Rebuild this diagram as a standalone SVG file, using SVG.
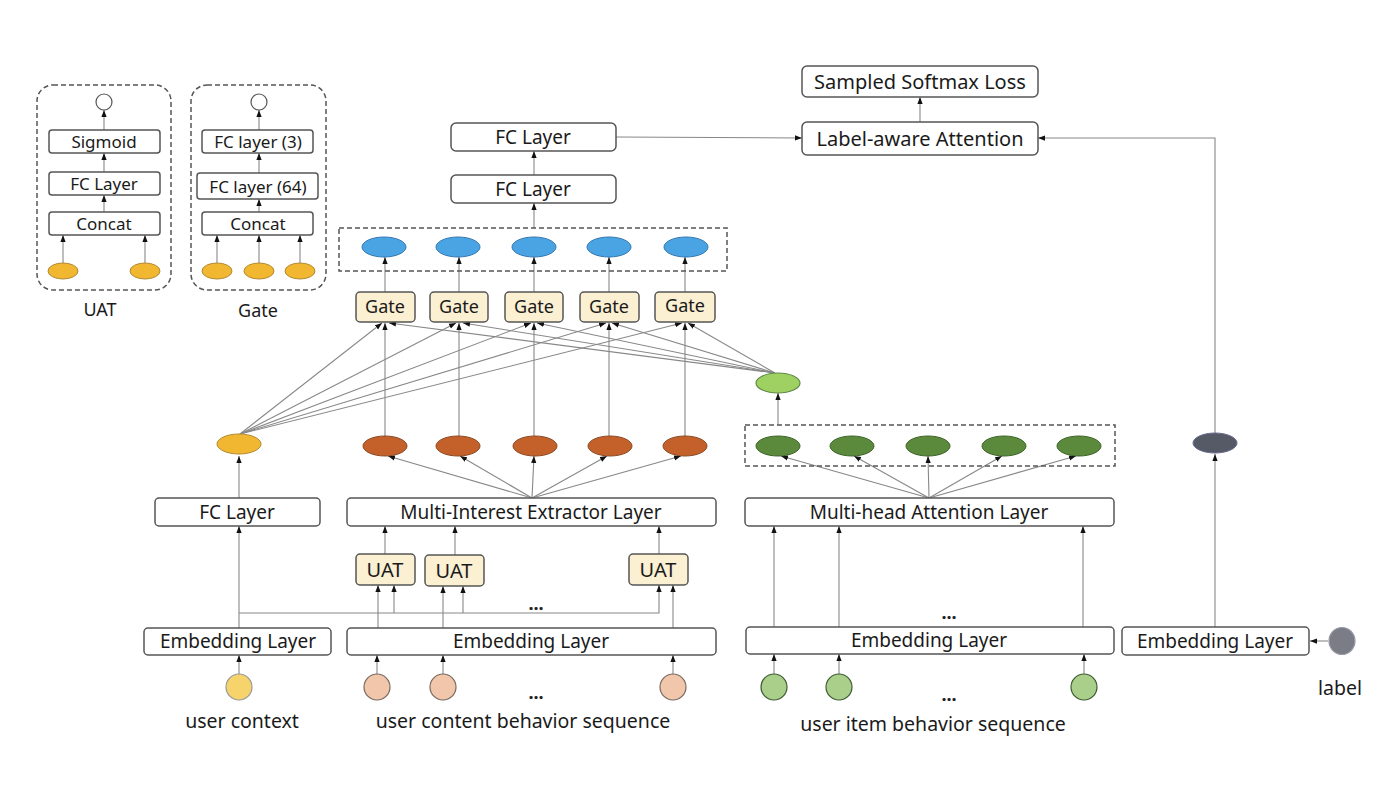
<svg xmlns="http://www.w3.org/2000/svg" width="1400" height="791" viewBox="0 0 1400 791">
<defs>
<marker id="ah" viewBox="0 0 8 6" refX="8" refY="3" markerWidth="7" markerHeight="6" markerUnits="userSpaceOnUse" orient="auto">
<path d="M0,0 L8,3 L0,6 z" fill="#111"/>
</marker>
<style>
.box{fill:#fff;stroke:#555;stroke-width:1.5}
.gate{fill:#fbf0d2;stroke:#555;stroke-width:1.5}
.dash{fill:none;stroke:#555;stroke-width:1.5;stroke-dasharray:5,3}
.t{font-family:"Noto Sans","Open Sans",sans-serif;font-size:19px;fill:#1a1a1a;text-anchor:middle;dominant-baseline:central}
.tg{font-family:"Noto Sans","Open Sans",sans-serif;font-size:18px;fill:#1a1a1a;text-anchor:middle;dominant-baseline:central}
.tu{font-family:"Noto Sans","Open Sans",sans-serif;font-size:20px;fill:#1a1a1a;text-anchor:middle;dominant-baseline:central}
.ti{font-family:"Noto Sans","Open Sans",sans-serif;font-size:17px;fill:#1a1a1a;text-anchor:middle;dominant-baseline:central}
.tc{font-family:"Noto Sans","Open Sans",sans-serif;font-size:18px;fill:#1a1a1a;text-anchor:middle;dominant-baseline:central}
.tl{font-family:"Noto Sans","Open Sans",sans-serif;font-size:20px;fill:#1a1a1a;text-anchor:middle;dominant-baseline:central}
.tb{font-family:"Noto Sans","Open Sans",sans-serif;font-size:19.5px;fill:#1a1a1a;text-anchor:middle;dominant-baseline:central}
.dots{font-family:"Noto Sans","Open Sans",sans-serif;font-size:18px;font-weight:bold;fill:#222;text-anchor:middle}
.c{fill:none;stroke:#888;stroke-width:1.1;marker-end:url(#ah)}
.yel{fill:#f2b731;stroke:#b08a35;stroke-width:1}
.blue{fill:#4aa3e2;stroke:#3578b0;stroke-width:1}
.brown{fill:#c4612b;stroke:#8a4a25;stroke-width:1}
.dg{fill:#5b8a3c;stroke:#3d6329;stroke-width:1}
.lg{fill:#9fd062;stroke:#5f8a48;stroke-width:1.2}
.peach{fill:#f2c6ab;stroke:#7a6a60;stroke-width:1.2}
.gc{fill:#a9cf8b;stroke:#3f5c33;stroke-width:1.2}
.open{fill:#fff;stroke:#555;stroke-width:1.2}
</style>
</defs>
<rect width="1400" height="791" fill="#fff"/>

<g id="connectors">
<line class="c" x1="63" y1="263" x2="63" y2="235"/>
<line class="c" x1="145" y1="263" x2="145" y2="235"/>
<line class="c" x1="104" y1="212" x2="104" y2="195"/>
<line class="c" x1="104" y1="172" x2="104" y2="153"/>
<line class="c" x1="104" y1="130" x2="104" y2="110"/>
<line class="c" x1="217" y1="263" x2="217" y2="235"/>
<line class="c" x1="259" y1="263" x2="259" y2="235"/>
<line class="c" x1="300" y1="263" x2="300" y2="235"/>
<line class="c" x1="259" y1="212" x2="259" y2="199"/>
<line class="c" x1="259" y1="173" x2="259" y2="153"/>
<line class="c" x1="259" y1="130" x2="259" y2="110"/>
<line class="c" x1="534" y1="228" x2="534" y2="203"/>
<line class="c" x1="534" y1="175" x2="534" y2="151"/>
<line class="c" x1="616" y1="137" x2="802" y2="138"/>
<line class="c" x1="920" y1="122" x2="920" y2="97"/>
<polyline class="c" points="1215,433 1215,138 1038,138"/>
<line class="c" x1="385" y1="292" x2="385" y2="257"/>
<line class="c" x1="459" y1="292" x2="459" y2="257"/>
<line class="c" x1="534" y1="292" x2="534" y2="257"/>
<line class="c" x1="609" y1="292" x2="609" y2="257"/>
<line class="c" x1="685" y1="292" x2="685" y2="257"/>
<line class="c" x1="385" y1="436" x2="385" y2="323"/>
<line class="c" x1="459" y1="436" x2="459" y2="323"/>
<line class="c" x1="534" y1="436" x2="534" y2="323"/>
<line class="c" x1="609" y1="436" x2="609" y2="323"/>
<line class="c" x1="685" y1="436" x2="685" y2="323"/>
<line class="c" x1="240" y1="434" x2="382" y2="323"/>
<line class="c" x1="240" y1="434" x2="456" y2="323"/>
<line class="c" x1="240" y1="434" x2="531" y2="323"/>
<line class="c" x1="240" y1="434" x2="606" y2="323"/>
<line class="c" x1="240" y1="434" x2="682" y2="323"/>
<line class="c" x1="775" y1="373" x2="389" y2="323"/>
<line class="c" x1="775" y1="373" x2="463" y2="323"/>
<line class="c" x1="775" y1="373" x2="537" y2="323"/>
<line class="c" x1="775" y1="373" x2="612" y2="323"/>
<line class="c" x1="775" y1="373" x2="688" y2="323"/>
<line class="c" x1="778" y1="425" x2="778" y2="393"/>
<line class="c" x1="532" y1="498" x2="388" y2="456"/>
<line class="c" x1="532" y1="498" x2="460" y2="456"/>
<line class="c" x1="532" y1="498" x2="534" y2="456"/>
<line class="c" x1="532" y1="498" x2="607" y2="456"/>
<line class="c" x1="532" y1="498" x2="681" y2="456"/>
<line class="c" x1="929" y1="498" x2="781" y2="456"/>
<line class="c" x1="929" y1="498" x2="854" y2="456"/>
<line class="c" x1="929" y1="498" x2="928" y2="456"/>
<line class="c" x1="929" y1="498" x2="1002" y2="456"/>
<line class="c" x1="929" y1="498" x2="1076" y2="456"/>
<line class="c" x1="239" y1="498" x2="239" y2="456"/>
<line class="c" x1="239" y1="628" x2="239" y2="526"/>
<polyline class="c" points="239,613 659,613 659,585"/>
<line class="c" x1="394" y1="613" x2="394" y2="585"/>
<line class="c" x1="463" y1="613" x2="463" y2="586"/>
<line class="c" x1="239" y1="674" x2="239" y2="655"/>
<line class="c" x1="378" y1="628" x2="378" y2="585"/>
<line class="c" x1="443" y1="628" x2="443" y2="586"/>
<line class="c" x1="673" y1="628" x2="673" y2="585"/>
<line class="c" x1="385" y1="554" x2="385" y2="526"/>
<line class="c" x1="455" y1="555" x2="455" y2="526"/>
<line class="c" x1="659" y1="554" x2="659" y2="526"/>
<line class="c" x1="377" y1="674" x2="377" y2="655"/>
<line class="c" x1="443" y1="674" x2="443" y2="655"/>
<line class="c" x1="673" y1="674" x2="673" y2="655"/>
<line class="c" x1="774" y1="627" x2="774" y2="526"/>
<line class="c" x1="839" y1="627" x2="839" y2="526"/>
<line class="c" x1="1083" y1="627" x2="1083" y2="526"/>
<line class="c" x1="774" y1="674" x2="774" y2="654"/>
<line class="c" x1="839" y1="674" x2="839" y2="654"/>
<line class="c" x1="1084" y1="674" x2="1084" y2="654"/>
<line class="c" x1="1215" y1="627" x2="1215" y2="454"/>
<line class="c" x1="1328" y1="641" x2="1310" y2="641"/>
</g>

<g id="uat-inset">
<rect class="dash" x="37" y="85" width="134" height="205" rx="16"/>
<circle class="open" cx="104" cy="102" r="8"/>
<rect class="box" x="49" y="130" width="111" height="23" rx="3"/>
<text class="ti" x="104" y="141.5">Sigmoid</text>
<rect class="box" x="49" y="172" width="111" height="23" rx="3"/>
<text class="ti" x="104" y="183.5">FC Layer</text>
<rect class="box" x="49" y="212" width="111" height="23" rx="3"/>
<text class="ti" x="104" y="223.5">Concat</text>
<ellipse class="yel" cx="63" cy="271" rx="15" ry="8"/>
<ellipse class="yel" cx="145" cy="271" rx="15" ry="8"/>
<text class="tc" x="100" y="309">UAT</text>
</g>

<g id="gate-inset">
<rect class="dash" x="191" y="85" width="135" height="205" rx="16"/>
<circle class="open" cx="259" cy="102" r="8"/>
<rect class="box" x="202" y="130" width="111" height="23" rx="3"/>
<text class="ti" x="258" y="141.5">FC layer (3)</text>
<rect class="box" x="197" y="173" width="121" height="26" rx="3"/>
<text class="ti" x="258" y="186">FC layer (64)</text>
<rect class="box" x="202" y="212" width="111" height="23" rx="3"/>
<text class="ti" x="258" y="223.5">Concat</text>
<ellipse class="yel" cx="217" cy="271" rx="15" ry="8"/>
<ellipse class="yel" cx="259" cy="271" rx="15" ry="8"/>
<ellipse class="yel" cx="300" cy="271" rx="15" ry="8"/>
<text class="tc" x="258" y="310">Gate</text>
</g>

<g id="sampled-softmax">
<rect class="box" x="802" y="66" width="236" height="31" rx="5"/>
<text class="tl" x="920" y="81">Sampled Softmax Loss</text>
</g>
<g id="label-aware">
<rect class="box" x="802" y="122" width="236" height="33" rx="5"/>
<text class="tl" x="920" y="138">Label-aware Attention</text>
</g>
<g id="fc-top1">
<rect class="box" x="451" y="123" width="165" height="28" rx="5"/>
<text class="t" x="533" y="137">FC Layer</text>
</g>
<g id="fc-top2">
<rect class="box" x="451" y="175" width="165" height="28" rx="5"/>
<text class="t" x="533" y="189">FC Layer</text>
</g>

<g id="interest-outputs">
<rect class="dash" x="339" y="228" width="388" height="43"/>
<ellipse class="blue" cx="384" cy="247" rx="22" ry="10"/>
<ellipse class="blue" cx="458" cy="247" rx="22" ry="10"/>
<ellipse class="blue" cx="534" cy="247" rx="22" ry="10"/>
<ellipse class="blue" cx="609" cy="247" rx="22" ry="10"/>
<ellipse class="blue" cx="686" cy="247" rx="22" ry="10"/>
</g>

<g id="gates">
<rect class="gate" x="356" y="292" width="59" height="30" rx="4"/>
<text class="tg" x="385" y="306">Gate</text>
<rect class="gate" x="430" y="292" width="58" height="30" rx="4"/>
<text class="tg" x="459" y="306">Gate</text>
<rect class="gate" x="505" y="292" width="58" height="30" rx="4"/>
<text class="tg" x="534" y="306">Gate</text>
<rect class="gate" x="580" y="292" width="59" height="30" rx="4"/>
<text class="tg" x="609" y="306">Gate</text>
<rect class="gate" x="655" y="292" width="60" height="30" rx="4"/>
<text class="tg" x="685" y="305">Gate</text>
</g>

<g id="light-green-node">
<ellipse class="lg" cx="778" cy="383" rx="22" ry="10"/>
</g>

<g id="yellow-node">
<ellipse class="yel" cx="239" cy="444" rx="22" ry="10"/>
</g>

<g id="interest-capsules">
<ellipse class="brown" cx="385" cy="446" rx="22" ry="10"/>
<ellipse class="brown" cx="458" cy="446" rx="22" ry="10"/>
<ellipse class="brown" cx="535" cy="446" rx="22" ry="10"/>
<ellipse class="brown" cx="610" cy="446" rx="22" ry="10"/>
<ellipse class="brown" cx="685" cy="446" rx="22" ry="10"/>
</g>

<g id="attention-heads">
<rect class="dash" x="745" y="425" width="370" height="41"/>
<ellipse class="dg" cx="778" cy="446" rx="22" ry="10"/>
<ellipse class="dg" cx="852" cy="446" rx="22" ry="10"/>
<ellipse class="dg" cx="928" cy="446" rx="22" ry="10"/>
<ellipse class="dg" cx="1004" cy="446" rx="22" ry="10"/>
<ellipse class="dg" cx="1079" cy="446" rx="22" ry="10"/>
</g>

<g id="label-vec">
<ellipse cx="1215" cy="443" rx="22" ry="10" fill="#555a66" stroke="#6a6e90" stroke-width="1"/>
</g>

<g id="fc-left">
<rect class="box" x="155" y="498" width="165" height="28" rx="4"/>
<text class="t" x="237" y="512">FC Layer</text>
</g>
<g id="multi-interest">
<rect class="box" x="347" y="498" width="369" height="28" rx="4"/>
<text class="t" x="531" y="512">Multi-Interest Extractor Layer</text>
</g>
<g id="multi-head">
<rect class="box" x="745" y="498" width="369" height="28" rx="4"/>
<text class="t" x="929" y="512">Multi-head Attention Layer</text>
</g>

<g id="uat-boxes">
<rect class="gate" x="356" y="554" width="59" height="31" rx="4"/>
<text class="tu" x="385" y="569">UAT</text>
<rect class="gate" x="425" y="555" width="59" height="31" rx="4"/>
<text class="tu" x="454" y="570">UAT</text>
<rect class="gate" x="629" y="554" width="59" height="31" rx="4"/>
<text class="tu" x="658" y="569">UAT</text>
<text class="dots" x="536" y="610">...</text>
</g>

<g id="emb-context">
<rect class="box" x="144" y="628" width="187" height="27" rx="4"/>
<text class="t" x="238" y="641">Embedding Layer</text>
</g>
<g id="emb-content">
<rect class="box" x="347" y="628" width="369" height="27" rx="4"/>
<text class="t" x="531" y="641">Embedding Layer</text>
</g>
<g id="emb-item">
<rect class="box" x="746" y="627" width="368" height="27" rx="4"/>
<text class="t" x="929" y="640">Embedding Layer</text>
<text class="dots" x="949" y="619">...</text>
</g>
<g id="emb-label">
<rect class="box" x="1122" y="627" width="187" height="28" rx="4"/>
<text class="t" x="1215" y="641">Embedding Layer</text>
</g>

<g id="user-context">
<ellipse cx="239" cy="687" rx="13" ry="13" fill="#f7d36c" stroke="#999" stroke-width="1.2"/>
<text class="tb" x="242" y="720">user context</text>
</g>
<g id="content-seq">
<ellipse class="peach" cx="377" cy="687" rx="13" ry="13"/>
<ellipse class="peach" cx="443" cy="687" rx="13" ry="13"/>
<ellipse class="peach" cx="673" cy="687" rx="13" ry="13"/>
<text class="dots" x="536" y="699">...</text>
<text class="tb" x="523" y="720">user content behavior sequence</text>
</g>
<g id="item-seq">
<ellipse class="gc" cx="774" cy="687" rx="13" ry="13"/>
<ellipse class="gc" cx="839" cy="687" rx="13" ry="13"/>
<ellipse class="gc" cx="1084" cy="687" rx="13" ry="13"/>
<text class="dots" x="949" y="701">...</text>
<text class="tb" x="933" y="723">user item behavior sequence</text>
</g>
<g id="label-node">
<ellipse cx="1342" cy="641" rx="13" ry="13.5" fill="#7a7d86" stroke="#9a9aa8" stroke-width="1.2"/>
<text class="tb" x="1340" y="687">label</text>
</g>
</svg>
